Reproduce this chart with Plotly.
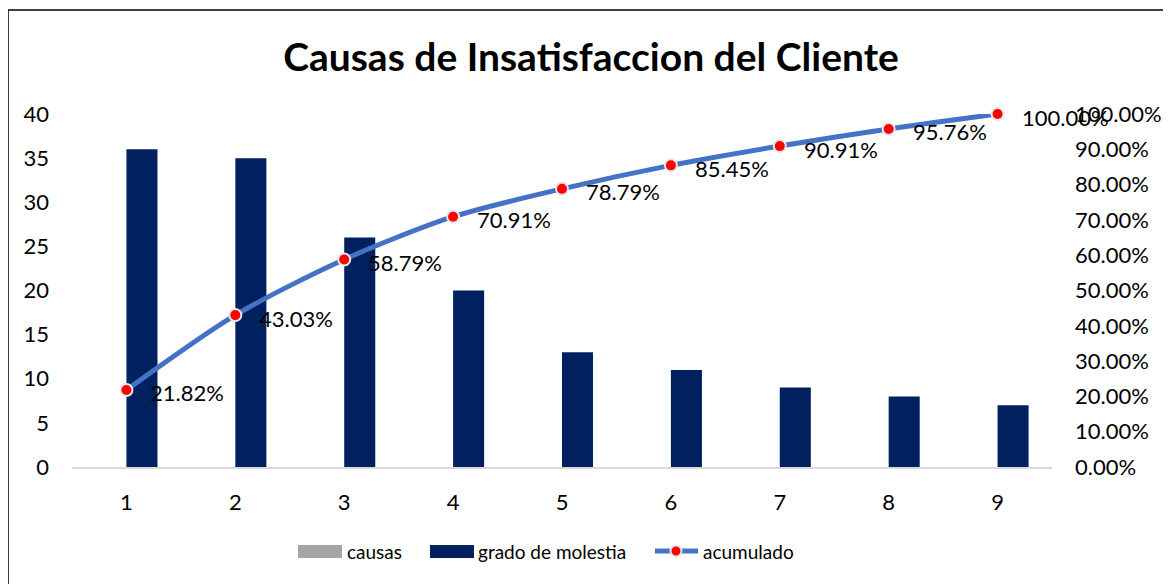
import plotly.graph_objects as go

# ---- data ----
categories = [1, 2, 3, 4, 5, 6, 7, 8, 9]
causas = [0, 0, 0, 0, 0, 0, 0, 0, 0]
grado_de_molestia = [36, 35, 26, 20, 13, 11, 9, 8, 7]
acumulado = [0.2182, 0.4303, 0.5879, 0.7091, 0.7879, 0.8545, 0.9091, 0.9576, 1.0]
left_ticks = [0, 5, 10, 15, 20, 25, 30, 35, 40]
right_ticks = [0.0, 0.1, 0.2, 0.3, 0.4, 0.5, 0.6, 0.7, 0.8, 0.9, 1.0]

OFF = 8  # page body margin offset
W, H = 1171 - OFF, 584 - OFF
# plot area in reference-window pixels
RL, RR, RT, RB = 72, 1052, 114, 467
L, R, T, B = RL - OFF, RR - OFF, RT - OFF, RB - OFF
FONT = "Lato, Carlito, Calibri, sans-serif"
TXT = "#000000"


def px_x(px):  # reference window px -> paper
    return (px - RL) / (RR - RL)


def px_y(py):
    return (RB - py) / (RB - RT)


fig = go.Figure()
fig.add_trace(go.Bar(x=categories, y=causas, name="causas",
                     marker=dict(color="#A5A5A5", line=dict(width=0)),
                     showlegend=False))
fig.add_trace(go.Bar(x=categories, y=grado_de_molestia, name="grado de molestia",
                     marker=dict(color="#002060", line=dict(width=0)),
                     showlegend=False))
fig.add_trace(go.Scatter(x=categories, y=acumulado, name="acumulado", yaxis="y2",
                         mode="lines+markers",
                         line=dict(color="#4472C4", width=5, shape="spline", smoothing=0.8),
                         marker=dict(color="#FF0000", size=12,
                                     line=dict(color="#E6E6E6", width=2)),
                         cliponaxis=False, showlegend=False))

annotations = []
for c, v in zip(categories, acumulado):
    annotations.append(dict(x=c, y=v, xref="x", yref="y2", text=f"{v:.2%}",
                            showarrow=False, xanchor="left", yanchor="middle",
                            xshift=22, yshift=-3,
                            font=dict(family=FONT, size=22, color=TXT)))

# custom legend (text real, swatches as shapes)
ly = 551
shapes = [
    # outer chart border
    dict(type="rect", xref="paper", yref="paper",
         x0=px_x(8), x1=px_x(1185), y0=px_y(600), y1=px_y(10),
         line=dict(color="#000000", width=1.5), fillcolor="rgba(0,0,0,0)", layer="below"),
    dict(type="rect", xref="paper", yref="paper",
         x0=px_x(298), x1=px_x(342), y0=px_y(558), y1=px_y(545),
         line=dict(width=0), fillcolor="#A5A5A5"),
    dict(type="rect", xref="paper", yref="paper",
         x0=px_x(430), x1=px_x(474), y0=px_y(558), y1=px_y(545),
         line=dict(width=0), fillcolor="#002060"),
    dict(type="line", xref="paper", yref="paper",
         x0=px_x(655), x1=px_x(698), y0=px_y(ly), y1=px_y(ly),
         line=dict(color="#4472C4", width=5)),
    dict(type="circle", xref="paper", yref="paper",
         x0=px_x(670.5), x1=px_x(681.5), y0=px_y(ly + 5.5), y1=px_y(ly - 5.5),
         line=dict(color="#E6E6E6", width=2), fillcolor="#FF0000"),
]
for txt, xpx in [("causas", 345), ("grado de molestia", 476), ("acumulado", 701)]:
    annotations.append(dict(x=px_x(xpx), y=px_y(ly), xref="paper", yref="paper",
                            text=txt, showarrow=False, xanchor="left", yanchor="middle",
                            font=dict(family=FONT, size=19, color=TXT)))

fig.update_layout(
    width=W, height=H,
    margin=dict(l=L, r=W - R, t=T, b=H - B, autoexpand=False),
    paper_bgcolor="white", plot_bgcolor="white",
    font=dict(family=FONT, size=22, color=TXT),
    title=dict(text="<b>Causas de Insatisfaccion del Cliente</b>",
               x=(591 - OFF) / W, xref="container", xanchor="center",
               y=1 - (57 - OFF) / H, yref="container", yanchor="middle",
               font=dict(family=FONT, size=39, color=TXT)),
    barmode="group", bargap=0.43, bargroupgap=0,
    xaxis=dict(range=[0.5, 9.5], tickmode="array", tickvals=categories,
               ticktext=[str(c) for c in categories],
               showgrid=False, zeroline=False, showline=True,
               linecolor="#D9D9D9", linewidth=1.5, ticks="",
               ticklabelstandoff=15, tickfont=dict(family=FONT, size=22, color=TXT)),
    yaxis=dict(range=[0, 40], tickmode="array", tickvals=left_ticks,
               showgrid=False, zeroline=False, showline=False, ticks="",
               ticklabelstandoff=22, tickfont=dict(family=FONT, size=22, color=TXT)),
    yaxis2=dict(range=[0, 1], overlaying="y", side="right", tickmode="array",
                tickvals=right_ticks, tickformat=".2%",
                showgrid=False, zeroline=False, showline=False, ticks="",
                ticklabelstandoff=22, tickfont=dict(family=FONT, size=22, color=TXT)),
    shapes=shapes, annotations=annotations,
    showlegend=False,
)

fig.write_html("out.html")
